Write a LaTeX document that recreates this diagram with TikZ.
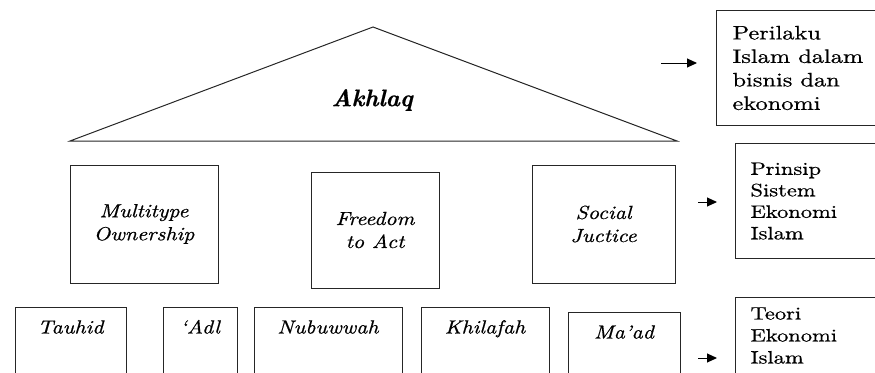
\documentclass[tikz,border=0pt]{standalone}
\usepackage{graphicx}
\usepackage{fontspec}
\setmainfont{lmroman10-regular.otf}[ItalicFont=lmroman10-italic.otf,
  BoldFont=lmroman10-bold.otf, BoldItalicFont=lmroman10-bolditalic.otf, FakeBold=0.6]
\usetikzlibrary{arrows.meta}
\newcommand\wideA[1]{\scalebox{1.25}[1]{#1}}
\newcommand\wideB[1]{\scalebox{1.15}[1]{#1}}
\begin{document}
\begin{tikzpicture}[x=1pt,y=-1pt,
  frame/.style={draw=black!85, line width=1pt},
  mid/.style={frame, font=\itshape\fontsize{19}{23}\selectfont, align=center, inner sep=0pt},
  low/.style={frame, anchor=north, font=\itshape\fontsize{19}{23}\selectfont,
    text height=14pt, text depth=70pt, inner xsep=0pt, inner ysep=12pt},
  side/.style={frame, anchor=north west, align=left, text width=140pt, inner xsep=15pt, inner ysep=0pt},
  arr/.style={draw=black, line width=1pt, -{Triangle[length=10pt,width=9pt]}}]

\useasboundingbox (0,0) rectangle (875,372);
\clip (0,0) rectangle (875,372);

% roof
\coordinate (apex) at (373,27);
\coordinate (bl) at (70,141);
\coordinate (br) at (677,141);
\draw[frame, line join=miter] (bl) -- (apex) -- (br) -- cycle;
\node[font=\bfseries\itshape\fontsize{24}{28}\selectfont] (akhlaq) at (372,100) {Akhlaq};

% pillars
\node[mid, minimum width=148pt, minimum height=118pt] (own) at (144,224) {\wideB{Multitype}\\\wideB{Ownership}};
\node[mid, minimum width=128pt, minimum height=116pt] (free) at (375,230) {\wideB{Freedom}\\\wideB{to Act}};
\node[mid, minimum width=143pt, minimum height=118pt] (soc) at (603.5,224) {\wideB{Social}\\\wideB{Juctice}};

% foundation
\node[low, minimum width=111pt] (tau) at (70.5,307) {\wideB{Tauhid}};
\node[low, minimum width=74pt] (adl) at (200,307) {\wideB{‘Adl}};
\node[low, minimum width=148pt] (nub) at (328,307) {\wideB{Nubuwwah}};
\node[low, minimum width=128pt] (khi) at (485,307) {\wideB{Khilafah}};
\node[low, minimum width=112pt] (mad) at (624,312) {\wideB{Ma’ad}};

% side boxes
\node[side, inner xsep=16pt, minimum height=115pt, font=\fontsize{19.5}{23.5}\selectfont] (b1) at (716,10)
  {\wideA{Perilaku}\\\wideA{Islam dalam}\\\wideA{bisnis dan}\\\wideA{ekonomi}};
\node[side, minimum height=115pt, font=\fontsize{18}{21.5}\selectfont] (b2) at (735,143)
  {\wideA{Prinsip}\\\wideA{Sistem}\\\wideA{Ekonomi}\\\wideA{Islam}};
\node[side, minimum height=76pt, font=\fontsize{18}{22}\selectfont] (b3) at (735,297)
  {\wideA{Teori}\\\wideA{Ekonomi}\\\wideA{Islam}};

% arrows
\coordinate (a1s) at (661,63); \coordinate (a1e) at (697,63);
\coordinate (a2s) at (698,202); \coordinate (a2e) at (717,202);
\coordinate (a3s) at (698,358); \coordinate (a3e) at (717,358);
\draw[arr] (a1s) -- (a1e);
\draw[arr] (a2s) -- (a2e);
\draw[arr] (a3s) -- (a3e);
\end{tikzpicture}
\end{document}
